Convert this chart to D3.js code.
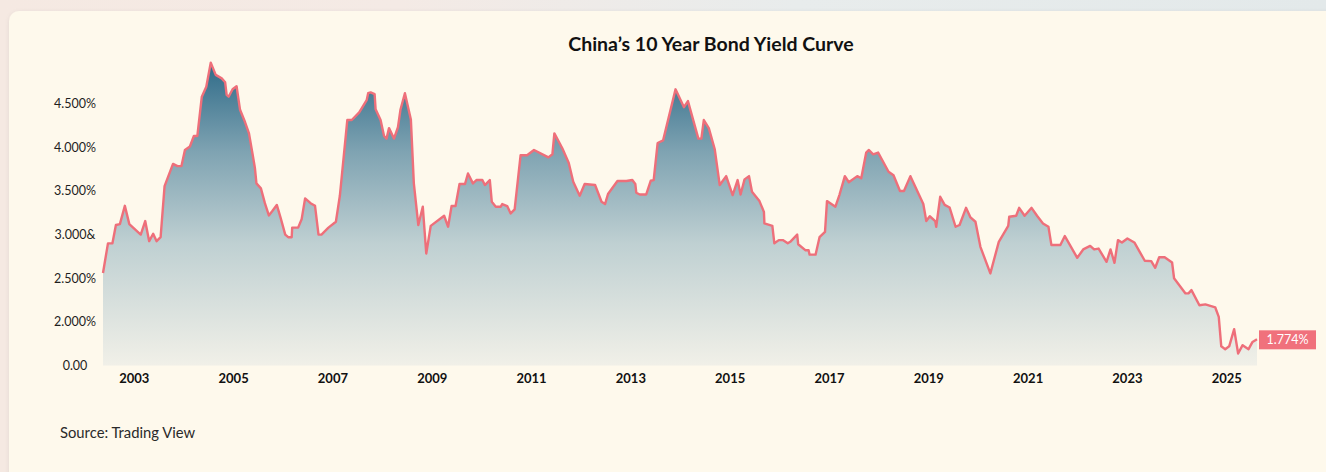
<!DOCTYPE html>
<html>
<head>
<meta charset="utf-8">
<script src="https://cdn.jsdelivr.net/npm/d3@7"></script>
<style>
  html, body { margin: 0; padding: 0; }
  body {
    width: 1326px; height: 472px; overflow: hidden;
    background: linear-gradient(90deg, #f5e9e2 0%, #f4eae5 30%, #e8ecec 60%, #e3e9ea 100%);
    font-family: Lato, "Open Sans", sans-serif;
  }
</style>
</head>
<body>
<svg id="chart"></svg>
<script>
// decimal year of each reading
var years = [
  2002.38, 2002.48, 2002.57, 2002.64, 2002.72, 2002.82, 2002.91, 2003.14, 2003.23, 2003.31,
  2003.39, 2003.46, 2003.54, 2003.62, 2003.79, 2003.88, 2003.96, 2004.03, 2004.13, 2004.21,
  2004.28, 2004.37, 2004.46, 2004.55, 2004.65, 2004.77, 2004.84, 2004.87, 2004.91, 2004.99,
  2005.07, 2005.14, 2005.24, 2005.32, 2005.39, 2005.44, 2005.47, 2005.56, 2005.64, 2005.72,
  2005.79, 2005.88, 2005.96, 2006.05, 2006.11, 2006.18, 2006.19, 2006.31, 2006.38, 2006.45,
  2006.56, 2006.65, 2006.72, 2006.78, 2006.92, 2007.07, 2007.15, 2007.30, 2007.39, 2007.54,
  2007.69, 2007.72, 2007.77, 2007.85, 2007.87, 2007.97, 2008.04, 2008.09, 2008.14, 2008.24,
  2008.32, 2008.37, 2008.46, 2008.58, 2008.64, 2008.73, 2008.82, 2008.89, 2008.98, 2009.25,
  2009.33, 2009.40, 2009.48, 2009.56, 2009.67, 2009.73, 2009.83, 2009.90, 2010.02, 2010.07,
  2010.17, 2010.21, 2010.29, 2010.39, 2010.42, 2010.52, 2010.59, 2010.67, 2010.79, 2010.92,
  2011.06, 2011.35, 2011.43, 2011.47, 2011.63, 2011.76, 2011.85, 2011.98, 2012.08, 2012.29,
  2012.42, 2012.49, 2012.55, 2012.74, 2012.92, 2013.04, 2013.10, 2013.12, 2013.19, 2013.32,
  2013.41, 2013.47, 2013.55, 2013.66, 2013.91, 2014.08, 2014.16, 2014.37, 2014.43, 2014.48,
  2014.58, 2014.70, 2014.80, 2014.93, 2015.06, 2015.16, 2015.22, 2015.30, 2015.39, 2015.45,
  2015.60, 2015.69, 2015.70, 2015.86, 2015.90, 2015.99, 2016.07, 2016.17, 2016.22, 2016.36,
  2016.38, 2016.53, 2016.59, 2016.61, 2016.73, 2016.81, 2016.92, 2016.96, 2017.13, 2017.21,
  2017.32, 2017.40, 2017.57, 2017.65, 2017.75, 2017.80, 2017.89, 2017.99, 2018.20, 2018.30,
  2018.43, 2018.51, 2018.64, 2018.90, 2018.96, 2019.03, 2019.14, 2019.16, 2019.24, 2019.33,
  2019.43, 2019.55, 2019.63, 2019.76, 2019.85, 2019.95, 2020.05, 2020.25, 2020.42, 2020.61,
  2020.63, 2020.77, 2020.83, 2020.94, 2021.08, 2021.19, 2021.31, 2021.42, 2021.48, 2021.66,
  2021.75, 2022.00, 2022.12, 2022.26, 2022.34, 2022.43, 2022.59, 2022.67, 2022.75, 2022.82,
  2022.90, 2023.01, 2023.15, 2023.36, 2023.49, 2023.57, 2023.65, 2023.76, 2023.91, 2023.95,
  2024.18, 2024.24, 2024.30, 2024.46, 2024.58, 2024.78, 2024.85, 2024.90, 2024.98, 2025.06,
  2025.16, 2025.24, 2025.33, 2025.45, 2025.53, 2025.62
];

// 10 year yield, percent
var yields = [
  2.56, 2.90, 2.90, 3.11, 3.12, 3.33, 3.12, 3.00, 3.155, 2.925,
  3.01, 2.925, 2.97, 3.556, 3.81, 3.785, 3.785, 3.97, 4.01, 4.13,
  4.13, 4.58, 4.695, 4.97, 4.83, 4.79, 4.745, 4.60, 4.58, 4.665,
  4.70, 4.43, 4.29, 4.16, 3.93, 3.76, 3.587, 3.53, 3.36, 3.22,
  3.27, 3.34, 3.185, 3.00, 2.97, 2.97, 3.08, 3.08, 3.175, 3.415,
  3.36, 3.33, 3.00, 3.00, 3.08, 3.147, 3.445, 4.313, 4.313, 4.40,
  4.54, 4.62, 4.63, 4.61, 4.436, 4.313, 4.13, 4.10, 4.22, 4.10,
  4.23, 4.43, 4.62, 4.32, 3.587, 3.11, 3.32, 2.784, 3.10, 3.216,
  3.09, 3.327, 3.327, 3.58, 3.58, 3.70, 3.587, 3.625, 3.625, 3.568,
  3.625, 3.376, 3.32, 3.32, 3.35, 3.327, 3.243, 3.29, 3.91, 3.91,
  3.97, 3.885, 3.92, 4.16, 3.99, 3.82, 3.605, 3.445, 3.58, 3.568,
  3.376, 3.35, 3.465, 3.614, 3.614, 3.625, 3.58, 3.48, 3.46, 3.46,
  3.617, 3.625, 4.05, 4.08, 4.665, 4.46, 4.53, 4.10, 4.10, 4.313,
  4.22, 3.977, 3.568, 3.67, 3.453, 3.625, 3.46, 3.633, 3.67, 3.49,
  3.384, 3.26, 3.128, 3.10, 2.90, 2.937, 2.937, 2.90, 2.917, 3.00,
  2.89, 2.82, 2.82, 2.77, 2.77, 2.97, 3.03, 3.384, 3.32, 3.453,
  3.67, 3.60, 3.67, 3.645, 3.94, 3.97, 3.92, 3.94, 3.72, 3.68,
  3.50, 3.50, 3.67, 3.35, 3.155, 3.21, 3.155, 3.09, 3.433, 3.34,
  3.31, 3.09, 3.11, 3.307, 3.197, 3.147, 2.86, 2.555, 2.917, 3.10,
  3.204, 3.216, 3.307, 3.216, 3.307, 3.216, 3.128, 3.09, 2.88, 2.88,
  2.983, 2.734, 2.83, 2.87, 2.83, 2.84, 2.688, 2.83, 2.677, 2.937,
  2.91, 2.956, 2.91, 2.70, 2.696, 2.62, 2.74, 2.74, 2.68, 2.50,
  2.326, 2.326, 2.364, 2.19, 2.20, 2.165, 2.057, 1.72, 1.687, 1.72,
  1.916, 1.638, 1.733, 1.687, 1.77, 1.80
];

var xTickYears = [2003, 2005, 2007, 2009, 2011, 2013, 2015, 2017, 2019, 2021, 2023, 2025];
var yTickValues = [1.5, 2.0, 2.5, 3.0, 3.5, 4.0, 4.5];
var yTickLabels = ["0.00", "2.000%", "2.500%", "3.000&", "3.500%", "4.000%", "4.500%"];
var lastLabel = "1.774%";

var width = 1326, height = 472;
var svg = d3.select('#chart').attr('width', width).attr('height', height);

var data = years.map(function(d, i) { return { x: d, y: yields[i] }; });

// card
var defs = svg.append('defs');
var shadow = defs.append('filter').attr('id', 'shadow')
  .attr('x', '-5%').attr('y', '-5%').attr('width', '110%').attr('height', '110%');
shadow.append('feDropShadow').attr('dx', 0).attr('dy', 1).attr('stdDeviation', 2)
  .attr('flood-color', '#000').attr('flood-opacity', 0.08);

svg.append('rect')
  .attr('x', 9).attr('y', 11).attr('width', 1340).attr('height', 480)
  .attr('rx', 10).attr('fill', '#fef9ec').attr('filter', 'url(#shadow)');

// scales
var xScale = d3.scaleLinear()
  .domain([years[0], years[years.length - 1]])
  .range([103, 1257]);

var yScale = d3.scaleLinear()
  .domain([1.5, 4.5])
  .range([365.5, 103.7]);

// gradient fill
var grad = defs.append('linearGradient').attr('id', 'areaFill')
  .attr('gradientUnits', 'userSpaceOnUse')
  .attr('x1', 0).attr('x2', 0).attr('y1', 60).attr('y2', 366);
grad.append('stop').attr('offset', '0%').attr('stop-color', '#2c6987');
grad.append('stop').attr('offset', '30%').attr('stop-color', '#7fa3b2');
grad.append('stop').attr('offset', '60%').attr('stop-color', '#bfd0d2');
grad.append('stop').attr('offset', '100%').attr('stop-color', '#f1f0e8');

var area = d3.area()
  .x(function(d) { return xScale(d.x); })
  .y0(yScale(1.5))
  .y1(function(d) { return yScale(d.y); });

var line = d3.line()
  .x(function(d) { return xScale(d.x); })
  .y(function(d) { return yScale(d.y); });

svg.append('path').datum(data)
  .attr('d', area)
  .attr('fill', 'url(#areaFill)');

svg.append('path').datum(data)
  .attr('d', line)
  .attr('fill', 'none')
  .attr('stroke', '#ee6f7a')
  .attr('stroke-width', 2.4)
  .attr('stroke-linejoin', 'round');

// y axis labels
var yAxis = d3.axisLeft(yScale)
  .tickValues(yTickValues)
  .tickSize(0)
  .tickFormat(function(d, i) { return yTickLabels[i]; });

var gy = svg.append('g')
  .attr('transform', 'translate(75,0)')
  .call(yAxis);
gy.select('.domain').remove();
gy.selectAll('text')
  .attr('x', 0)
  .attr('text-anchor', 'middle')
  .attr('fill', '#1e1e1e')
  .style('font-family', 'Lato, sans-serif')
  .style('font-size', '12.5px');

// x axis labels
var xAxis = d3.axisBottom(xScale)
  .tickValues(xTickYears)
  .tickSize(0)
  .tickFormat(function(d) { return String(d); });

var gx = svg.append('g')
  .attr('transform', 'translate(0,370)')
  .call(xAxis);
gx.select('.domain').remove();
gx.selectAll('text')
  .attr('y', 4)
  .attr('fill', '#111')
  .style('font-family', 'Lato, sans-serif')
  .style('font-weight', 700)
  .style('font-size', '13px');

// last value tag
var last = data[data.length - 1];
svg.append('rect')
  .attr('x', xScale(last.x) + 2).attr('y', yScale(last.y) - 9)
  .attr('width', 57).attr('height', 19)
  .attr('fill', '#f0717c');
svg.append('text')
  .attr('x', xScale(last.x) + 30.5).attr('y', yScale(last.y) + 4.5)
  .attr('text-anchor', 'middle')
  .attr('fill', '#fff')
  .style('font-family', 'Lato, sans-serif')
  .style('font-size', '12.5px')
  .text(lastLabel);

// title
svg.append('text')
  .attr('x', 711).attr('y', 51)
  .attr('text-anchor', 'middle')
  .attr('fill', '#111')
  .style('font-family', 'Lato, sans-serif')
  .style('font-weight', 700)
  .style('font-size', '19.5px')
  .text('China\u2019s 10 Year Bond Yield Curve');

// source
svg.append('text')
  .attr('x', 60).attr('y', 438)
  .attr('fill', '#2a2a2a')
  .style('font-family', 'Lato, sans-serif')
  .style('font-size', '14.8px')
  .text('Source: Trading View');
</script>
</body>
</html>
